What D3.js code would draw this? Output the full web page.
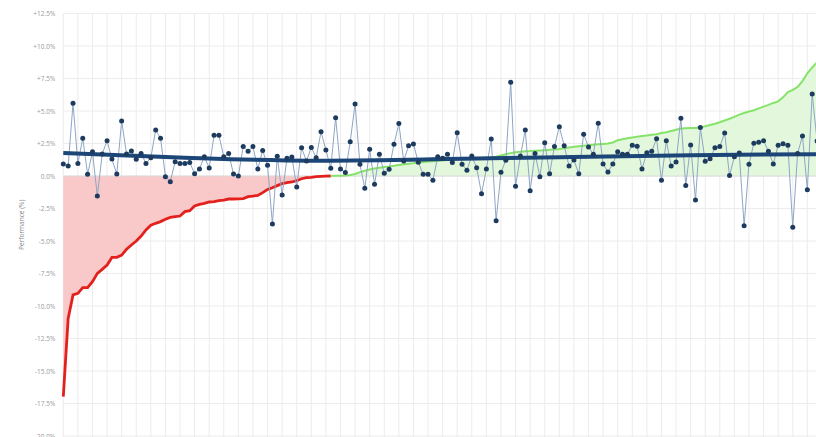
<!DOCTYPE html>
<html>
<head>
<meta charset="UTF-8">
<title>Performance</title>
<script src="https://d3js.org/d3.v7.min.js"></script>
<style>
  body { margin: 0; background: #fff; }
  text { font-family: "Open Sans", Roboto, sans-serif; }
  .grid line { stroke: #ececec; stroke-width: 1; }
</style>
</head>
<body>
<div id="chart"></div>
<script>
// daily performance values (%), one per index
var perf = [0.92,0.77,5.59,0.97,2.9,0.13,1.87,-1.54,1.69,2.72,
  1.3,0.15,4.23,1.69,1.92,1.28,1.74,0.97,1.4,3.54,
  2.9,-0.05,-0.44,1.1,0.97,0.97,1.03,0.18,0.54,1.49,
  0.62,3.13,3.13,1.49,1.74,0.15,0.0,2.26,1.9,2.26,
  0.54,1.97,0.82,-3.69,1.51,-1.46,1.36,1.46,-0.85,2.18,
  1.15,2.2,1.41,3.41,2.0,0.59,4.49,0.54,0.26,2.64,
  5.54,0.9,-0.95,2.05,-0.64,1.67,0.21,0.51,2.44,4.03,
  1.15,2.33,2.46,1.05,0.13,0.13,-0.33,1.49,1.36,1.67,
  1.03,3.33,0.9,0.44,1.54,0.64,-1.36,0.54,2.85,-3.44,
  0.28,1.21,7.21,-0.79,1.54,3.54,-1.13,1.74,-0.05,2.56,
  0.18,2.26,3.79,2.33,0.77,1.23,0.18,3.21,2.23,1.67,
  4.05,0.92,0.31,0.92,1.87,1.67,1.67,2.36,2.28,0.54,
  1.79,1.9,2.87,-0.33,2.72,0.77,1.08,4.44,-0.74,2.38,
  -1.85,3.74,1.13,1.33,2.18,2.26,3.31,0.03,1.49,1.77,
  -3.82,0.9,2.51,2.6,2.72,1.9,0.92,2.36,2.49,2.36,
  -3.95,1.74,3.08,-1.05,6.31,2.69];

// sorted performance curve (%), same indices
var ranked = [-16.97,-10.95,-9.15,-9.03,-8.59,-8.59,-8.13,-7.49,-7.18,-6.85,
  -6.26,-6.26,-6.08,-5.64,-5.31,-5.0,-4.62,-4.15,-3.79,-3.64,
  -3.51,-3.33,-3.18,-3.13,-3.08,-2.74,-2.67,-2.31,-2.18,-2.1,
  -2.0,-1.97,-1.9,-1.85,-1.77,-1.77,-1.76,-1.74,-1.59,-1.54,
  -1.49,-1.28,-1.03,-0.9,-0.74,-0.59,-0.51,-0.46,-0.36,-0.21,
  -0.13,-0.1,-0.05,-0.03,-0.01,0.0,0.01,0.02,0.04,0.07,
  0.15,0.3,0.4,0.5,0.58,0.64,0.69,0.73,0.78,0.84,
  0.9,0.95,0.99,1.04,1.08,1.11,1.14,1.17,1.21,1.23,
  1.25,1.28,1.3,1.33,1.35,1.37,1.39,1.41,1.43,1.48,
  1.58,1.68,1.76,1.83,1.87,1.9,1.92,1.95,1.97,1.99,
  2.01,2.03,2.08,2.14,2.2,2.25,2.29,2.33,2.37,2.41,
  2.44,2.47,2.5,2.58,2.75,2.83,2.9,2.96,3.02,3.07,
  3.12,3.17,3.22,3.3,3.36,3.46,3.56,3.66,3.68,3.69,
  3.7,3.73,3.82,3.92,4.02,4.14,4.27,4.4,4.55,4.72,
  4.85,4.96,5.06,5.2,5.34,5.47,5.62,5.74,6.05,6.45,
  6.62,6.85,7.3,7.9,8.35,8.75];

// trend line read at a few indices
var trendIdx = [0, 25, 51, 76, 102, 129, 155];
var trendVals = [1.77, 1.4, 1.18, 1.28, 1.45, 1.6, 1.68];

var yTicks = [12.5, 10, 7.5, 5, 2.5, 0, -2.5, -5, -7.5, -10, -12.5, -15, -17.5, -20];

var width = 816, height = 437;
var margin = {left: 63.3, top: 13.5, bottom: 1};
var step = 4.863; // px per index

var svg = d3.select('#chart').append('svg')
  .attr('width', width)
  .attr('height', height);

var x = d3.scaleLinear()
  .domain([0, perf.length - 1])
  .range([margin.left, margin.left + (perf.length - 1) * step]);
var y = d3.scaleLinear()
  .domain([-20, 12.5])
  .range([height - margin.bottom, margin.top]);

// grid
var grid = svg.append('g').attr('class', 'grid');
grid.selectAll('.h').data(yTicks).enter().append('line')
  .attr('x1', margin.left).attr('x2', width)
  .attr('y1', function(d){ return y(d); })
  .attr('y2', function(d){ return y(d); });
var vIdx = d3.range(0, perf.length + 3, 3);
grid.selectAll('.v').data(vIdx).enter().append('line')
  .attr('x1', function(d){ return x(d); })
  .attr('x2', function(d){ return x(d); })
  .attr('y1', margin.top).attr('y2', height);

// y axis labels
var yAxis = d3.axisLeft(y)
  .tickValues(yTicks)
  .tickSize(0)
  .tickPadding(8)
  .tickFormat(function(d){ return (d > 0 ? '+' : '') + d.toFixed(1) + '%'; });
var ag = svg.append('g')
  .attr('transform', 'translate(' + margin.left + ',0)')
  .call(yAxis);
ag.select('.domain').remove();
ag.selectAll('text').attr('fill', '#9a9a9a').style('font-size', '6.5px');

svg.append('text')
  .text('Performance (%)')
  .attr('transform', 'translate(24,' + y(-3.75) + ') rotate(-90)')
  .attr('text-anchor', 'middle')
  .attr('fill', '#888')
  .style('font-size', '6.5px');

// ranked curve split at zero
var ranks = ranked.map(function(v, i){ return {i: i, v: v}; });
var neg = ranks.filter(function(d){ return d.v <= 0; });
var pos = ranks.filter(function(d){ return d.v >= 0; });

var area = d3.area()
  .x(function(d){ return x(d.i); })
  .y0(y(0))
  .y1(function(d){ return y(d.v); });
var line = d3.line()
  .x(function(d){ return x(d.i); })
  .y(function(d){ return y(d.v); });

svg.append('path').attr('d', area(neg)).attr('fill', '#f9c8c8');
svg.append('path').attr('d', area(pos)).attr('fill', '#e3f7dc');

svg.append('line')
  .attr('x1', margin.left).attr('x2', width)
  .attr('y1', y(0)).attr('y2', y(0))
  .attr('stroke', '#dcdcdc');

svg.append('path').attr('d', line(neg))
  .attr('fill', 'none').attr('stroke', '#e3211c').attr('stroke-width', 2.8);
svg.append('path').attr('d', line(pos))
  .attr('fill', 'none').attr('stroke', '#86e36a').attr('stroke-width', 2);

// performance series
var pts = perf.map(function(v, i){ return {i: i, v: v}; });
svg.append('path').attr('d', line(pts))
  .attr('fill', 'none').attr('stroke', '#8ea6c4').attr('stroke-width', 1);

// trend
var tr = trendIdx.map(function(d, k){ return {i: d, v: trendVals[k]}; });
svg.append('path')
  .attr('d', d3.line().x(function(d){ return x(d.i); }).y(function(d){ return y(d.v); }).curve(d3.curveMonotoneX)(tr))
  .attr('fill', 'none').attr('stroke', '#1c4677').attr('stroke-width', 4);

svg.selectAll('.dot').data(pts).enter().append('circle')
  .attr('cx', function(d){ return x(d.i); })
  .attr('cy', function(d){ return y(d.v); })
  .attr('r', 2.5)
  .attr('fill', '#1d3b5e');
</script>
</body>
</html>
